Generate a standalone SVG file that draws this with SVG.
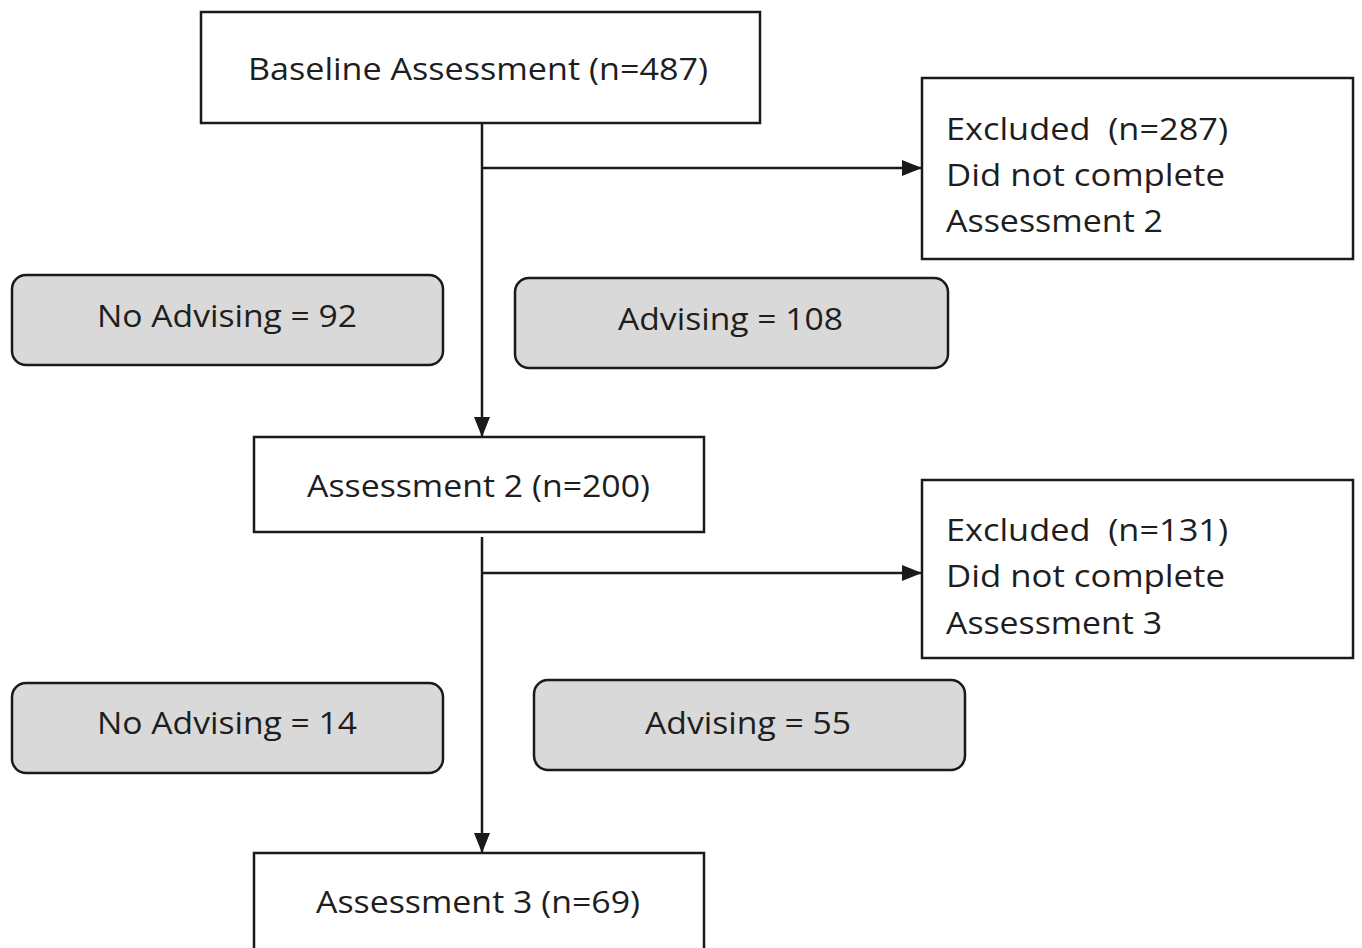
<svg xmlns="http://www.w3.org/2000/svg" width="1362" height="948" viewBox="0 0 1362 948">
<defs>
<style>
.box{fill:#ffffff;stroke:#1a1a1a;stroke-width:2.5}
.grey{fill:#d9d9d9;stroke:#1a1a1a;stroke-width:2.5}
.t{font-family:"Open Sans","Liberation Sans",sans-serif;font-size:31px;fill:#1e1e1e;white-space:pre}
.c{fill:none;stroke:#1a1a1a;stroke-width:2.5}
</style>
<marker id="arrow" viewBox="0 0 20 20" refX="20" refY="10" markerWidth="20" markerHeight="20" markerUnits="userSpaceOnUse" orient="auto">
<path d="M0,2 L20,10 L0,18 z" fill="#1a1a1a"/>
</marker>
</defs>
<rect width="1362" height="948" fill="#ffffff"/>
<g id="connectors">
<path class="c" d="M482,123 V437" marker-end="url(#arrow)"/>
<path class="c" d="M482,168 H922" marker-end="url(#arrow)"/>
<path class="c" d="M482,537 V853" marker-end="url(#arrow)"/>
<path class="c" d="M482,573 H922" marker-end="url(#arrow)"/>
</g>
<g id="baseline">
<rect class="box" x="201" y="12" width="559" height="111"/>
<text class="t" x="248" y="80" textLength="460" lengthAdjust="spacingAndGlyphs">Baseline Assessment (n=487)</text>
</g>
<g id="excluded1">
<rect class="box" x="922" y="78" width="431" height="181"/>
<text class="t" x="946" y="140" textLength="282" lengthAdjust="spacingAndGlyphs">Excluded  (n=287)</text>
<text class="t" x="946" y="186" textLength="279" lengthAdjust="spacingAndGlyphs">Did not complete</text>
<text class="t" x="946" y="232" textLength="217" lengthAdjust="spacingAndGlyphs">Assessment 2</text>
</g>
<g id="noadv1">
<rect class="grey" x="12" y="275" width="431" height="90" rx="14"/>
<text class="t" x="97" y="327" textLength="260" lengthAdjust="spacingAndGlyphs">No Advising = 92</text>
</g>
<g id="adv1">
<rect class="grey" x="515" y="278" width="433" height="90" rx="14"/>
<text class="t" x="618" y="330" textLength="225" lengthAdjust="spacingAndGlyphs">Advising = 108</text>
</g>
<g id="assess2">
<rect class="box" x="254" y="437" width="450" height="95"/>
<text class="t" x="307" y="497" textLength="343" lengthAdjust="spacingAndGlyphs">Assessment 2 (n=200)</text>
</g>
<g id="excluded2">
<rect class="box" x="922" y="480" width="431" height="178"/>
<text class="t" x="946" y="541" textLength="282" lengthAdjust="spacingAndGlyphs">Excluded  (n=131)</text>
<text class="t" x="946" y="587" textLength="279" lengthAdjust="spacingAndGlyphs">Did not complete</text>
<text class="t" x="946" y="634" textLength="216" lengthAdjust="spacingAndGlyphs">Assessment 3</text>
</g>
<g id="noadv2">
<rect class="grey" x="12" y="683" width="431" height="90" rx="14"/>
<text class="t" x="97" y="734" textLength="260" lengthAdjust="spacingAndGlyphs">No Advising = 14</text>
</g>
<g id="adv2">
<rect class="grey" x="534" y="680" width="431" height="90" rx="14"/>
<text class="t" x="645" y="734" textLength="206" lengthAdjust="spacingAndGlyphs">Advising = 55</text>
</g>
<g id="assess3">
<rect class="box" x="254" y="853" width="450" height="100"/>
<text class="t" x="316" y="913" textLength="324" lengthAdjust="spacingAndGlyphs">Assessment 3 (n=69)</text>
</g>
</svg>
